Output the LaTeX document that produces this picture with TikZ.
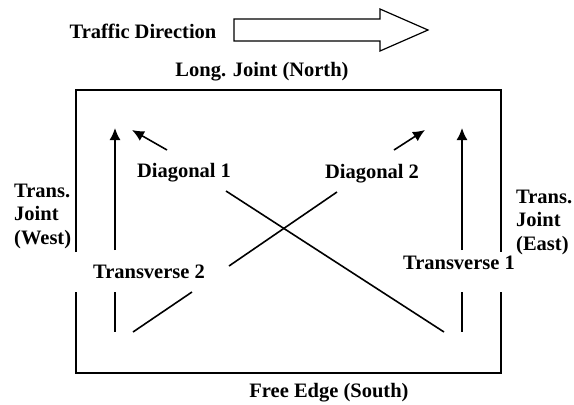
\documentclass[tikz,border=0pt]{standalone}
\usepackage{fontspec}
\setmainfont{Liberation Serif}
\usetikzlibrary{arrows.meta}
\begin{document}
\begin{tikzpicture}[x=1pt,y=-1pt,
  lbl/.style={font=\fontsize{20.5}{24}\selectfont\bfseries, inner sep=0pt},
  mlbl/.style={lbl, align=left, anchor=west, font=\fontsize{20.5}{23.5}\selectfont\bfseries},
  edge/.style={line width=1.6pt},
  arr/.style={line width=1.6pt, -{Latex[length=12pt,width=11pt]}}]
\useasboundingbox (0,0) rectangle (574,405);
% traffic arrow
\draw[line width=1.2pt] (234,19) -- (380,19) -- (380,9) -- (428,30) -- (380,51) -- (380,41) -- (234,41) -- cycle;
\node[lbl] (traffic) at (143,31) {Traffic Direction};
\node[lbl] (north) at (262,72) {Long. Joint (North)};
\node[lbl] (south) at (329,393) {Free Edge (South)};
\node[mlbl] (west) at (14,216) {Trans.\\Joint\\(West)};
\node[mlbl] (east) at (516,222) {Trans.\\Joint\\(East)};
\node[lbl] (d1) at (184,173) {Diagonal 1};
\node[lbl] (d2) at (372,174) {Diagonal 2};
\node[lbl] (t2) at (149,272) {Transverse 2};
\node[lbl] (t1) at (459,263) {Transverse 1};
% slab outline with gaps
\draw[edge] (76,252) -- (76,90) -- (501,90) -- (501,252);
\draw[edge] (76,292) -- (76,373) -- (501,373) -- (501,292);
% coordinates
\coordinate (t2a) at (115,250); \coordinate (t2b) at (115,128);
\coordinate (t2c) at (115,292); \coordinate (t2d) at (115,332);
\coordinate (t1a) at (462,250); \coordinate (t1b) at (462,128);
\coordinate (t1c) at (462,292); \coordinate (t1d) at (462,332);
\coordinate (d1a) at (167,150); \coordinate (d1b) at (132,130);
\coordinate (d2a) at (394,150); \coordinate (d2b) at (425,130);
\coordinate (d1s) at (226,191); \coordinate (d1e) at (444,332);
\coordinate (d2s) at (229,266); \coordinate (d2e) at (337,192);
\coordinate (t2s) at (133,332); \coordinate (t2e) at (192,292);
% arrows
\draw[arr] (t2a) -- (t2b);
\draw[arr] (t1a) -- (t1b);
\draw[arr] (d1a) -- (d1b);
\draw[arr] (d2a) -- (d2b);
% lines
\draw[edge] (t2c) -- (t2d);
\draw[edge] (t1c) -- (t1d);
\draw[edge] (d1s) -- (d1e);
\draw[edge] (d2s) -- (d2e);
\draw[edge] (t2s) -- (t2e);
\end{tikzpicture}
\end{document}
